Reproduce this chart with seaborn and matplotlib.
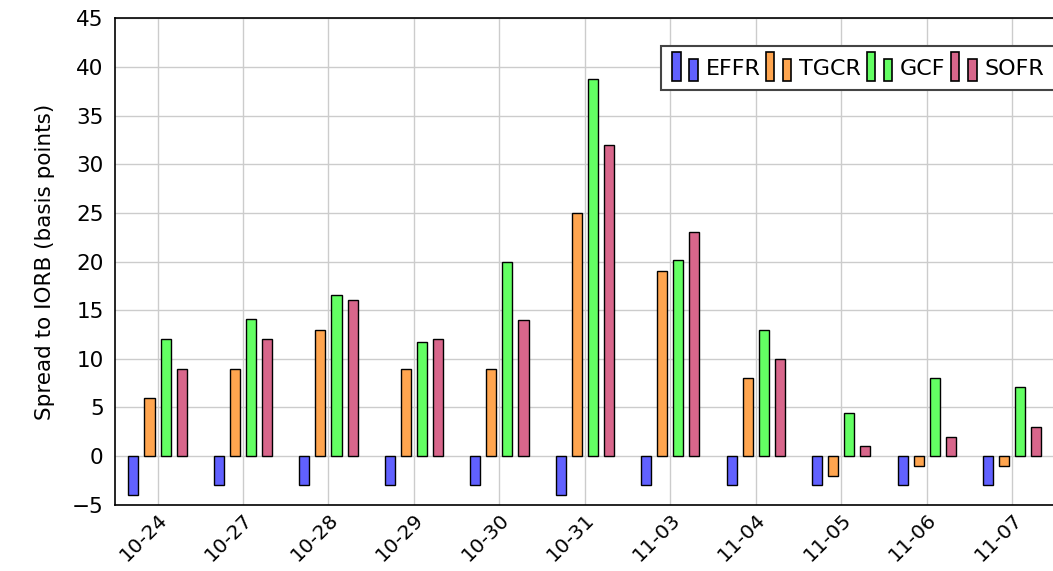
import pandas as pd
import matplotlib.pyplot as plt
import matplotlib.patches as mpatches
from matplotlib.legend_handler import HandlerBase
import seaborn as sns

# Spread to IORB by day (basis points)
dates = ['10-24', '10-27', '10-28', '10-29', '10-30', '10-31',
         '11-03', '11-04', '11-05', '11-06', '11-07']
effr = [-4, -3, -3, -3, -3, -4, -3, -3, -3, -3, -3]
tgcr = [6, 9, 13, 9, 9, 25, 19, 8, -2, -1, -1]
gcf = [12, 14.1, 16.6, 11.7, 20, 38.8, 20.2, 13, 4.4, 8, 7.1]
sofr = [9, 12, 16, 12, 14, 32, 23, 10, 1, 2, 3]

rates = ['EFFR', 'TGCR', 'GCF', 'SOFR']
colors = ['#6161ff', '#ffa54f', '#63ff63', '#d8668b']


class TwoBarHandler(HandlerBase):
    # pgfplots style legend icon: a tall and a short bar
    def create_artists(self, legend, orig_handle, xdescent, ydescent,
                       width, height, fontsize, trans):
        fc = orig_handle.get_facecolor()
        bw = width * 0.3
        y0 = -ydescent - height * 0.2
        r1 = mpatches.Rectangle((-xdescent, y0), bw, height * 1.5,
                                facecolor=fc, edgecolor='black', lw=1.2, transform=trans)
        r2 = mpatches.Rectangle((-xdescent + width * 0.62, y0), bw, height * 1.15,
                                facecolor=fc, edgecolor='black', lw=1.2, transform=trans)
        return [r1, r2]


def make_chart():
    df = pd.DataFrame({'date': dates, 'EFFR': effr, 'TGCR': tgcr, 'GCF': gcf, 'SOFR': sofr})
    long_df = df.melt(id_vars='date', var_name='rate', value_name='spread')

    sns.set_theme(style='white')
    plt.rcParams['font.family'] = ['DejaVu Sans']
    plt.rcParams['text.color'] = 'black'
    plt.rcParams['axes.labelcolor'] = 'black'
    plt.rcParams['xtick.labelcolor'] = 'black'
    plt.rcParams['ytick.labelcolor'] = 'black'

    fig = plt.figure(figsize=(10.53, 5.71), dpi=100)
    ax = fig.add_axes([0.109, 0.116, 0.893, 0.852])

    sns.barplot(data=long_df, x='date', y='spread', hue='rate', hue_order=rates,
                palette=colors, width=0.75, gap=0.375, edgecolor='black', linewidth=1,
                saturation=1, ax=ax, legend=False, zorder=3)

    ax.set_xlim(-0.5, 10.5)
    ax.set_ylim(-5, 45)
    ax.set_yticks(range(-5, 50, 5))
    ax.set_yticklabels(['\u22125' if v < 0 else str(v) for v in range(-5, 50, 5)])
    ax.set_xlabel('')
    ax.set_ylabel('Spread to IORB (basis points)', fontsize=15.5, labelpad=12)
    ax.grid(True, color='#cccccc', linewidth=1, zorder=0)
    ax.set_axisbelow(True)
    ax.tick_params(axis='y', labelsize=15.5, direction='in', length=5, color='#999999', pad=8)
    ax.tick_params(axis='x', labelsize=14.5, direction='out', length=9, color='#999999', pad=-5)
    plt.setp(ax.get_xticklabels(), rotation=45, ha='right', rotation_mode='anchor')
    for s in ax.spines.values():
        s.set_color('black')
        s.set_linewidth(1.2)

    handles = [mpatches.Patch(facecolor=c, edgecolor='black', label=r) for c, r in zip(colors, rates)]
    leg = ax.legend(handles=handles, loc='upper right', ncol=4, fontsize=16,
                    bbox_to_anchor=(1.012, 0.965), handler_map={mpatches.Patch: TwoBarHandler()},
                    handlelength=1.25, handleheight=1.0, handletextpad=0.25, columnspacing=0.25,
                    borderpad=0.5, fancybox=False, framealpha=1, edgecolor='#444444')
    leg.get_frame().set_linewidth(1.5)

    fig.savefig('out.png', dpi=100)
    plt.close(fig)


if __name__ == "__main__":
    make_chart()
